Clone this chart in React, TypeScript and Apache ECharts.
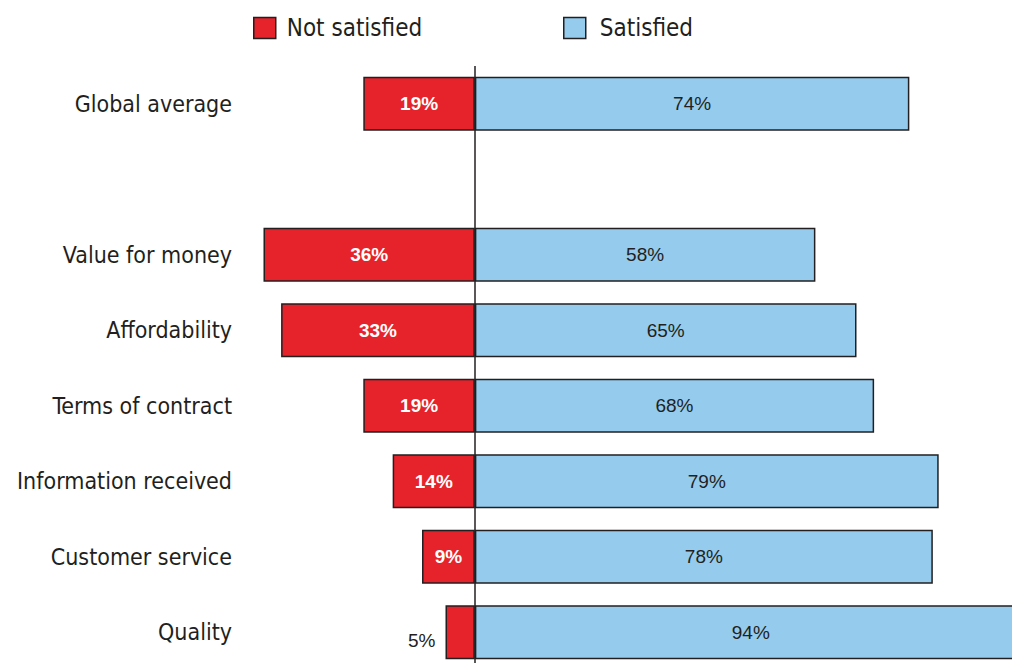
import React, { useEffect, useRef } from "react";
import * as echarts from "echarts";

const categories = [
  "Global average",
  "",
  "Value for money",
  "Affordability",
  "Terms of contract",
  "Information received",
  "Customer service",
  "Quality",
];
const notSatisfied: (number | null)[] = [19, null, 36, 33, 19, 14, 9, 5];
const satisfied: (number | null)[] = [74, null, 58, 65, 68, 79, 78, 94];
const seriesNames = ["Not satisfied", "Satisfied"];

const RED = "#E6222B";
const BLUE = "#95CCEE";
const INK = "#231F20";
const FONT = "'Liberation Sans Narrow', 'DejaVu Sans Condensed', sans-serif";
const LABEL_FONT = "'Liberation Sans', Arial, sans-serif";

export default function App() {
  const ref = useRef<HTMLDivElement>(null);
  useEffect(() => {
    if (!ref.current) return;
    const chart = echarts.init(ref.current, undefined, { renderer: "svg" });
    const notData = notSatisfied.map((v, i) => {
      if (v == null) return "-";
      if (i === categories.length - 1) {
        return {
          value: -v,
          label: { position: "left", color: INK, fontWeight: "normal", distance: 10, offset: [0, 8] },
        };
      }
      return -v;
    });
    chart.setOption({
      animation: false,
      backgroundColor: "#ffffff",
      textStyle: { fontFamily: FONT },
      legend: [
        {
          data: [seriesNames[0]],
          left: 248,
          top: 11,
          itemWidth: 22,
          itemHeight: 21,
          icon: "rect",
          itemStyle: { borderColor: INK, borderWidth: 1.5 },
          textStyle: { fontFamily: FONT, fontSize: 24, color: INK, padding: [0, 0, 0, 6] },
        },
        {
          data: [seriesNames[1]],
          left: 558,
          top: 11,
          itemWidth: 22,
          itemHeight: 21,
          icon: "rect",
          itemStyle: { borderColor: INK, borderWidth: 1.5 },
          textStyle: { fontFamily: FONT, fontSize: 24, color: INK, padding: [0, 0, 0, 9] },
        },
      ],
      grid: {
        left: 240,
        top: 66,
        width: 822,
        height: 604,
        containLabel: false,
        outerBoundsMode: "none",
      },
      xAxis: {
        type: "value",
        min: -40,
        max: 100,
        show: false,
      },
      yAxis: {
        type: "category",
        data: categories,
        inverse: true,
        axisLine: { show: false },
        axisTick: { show: false },
        splitLine: { show: false },
        axisLabel: {
          fontFamily: FONT,
          fontSize: 23,
          color: INK,
          margin: 8,
        },
      },
      series: [
        {
          name: seriesNames[0],
          type: "bar",
          stack: "total",
          barWidth: 54,
          data: notData,
          itemStyle: { color: RED, borderColor: INK, borderWidth: 1.5 },
          label: {
            show: true,
            position: "inside",
            color: "#ffffff",
            fontFamily: LABEL_FONT,
            fontSize: 19,
            fontWeight: "bold",
            formatter: (p: any) => `${Math.abs(p.value)}%`,
          },
          markLine: {
            silent: true,
            symbol: "none",
            label: { show: false },
            lineStyle: { color: INK, width: 1.5, type: "solid" },
            data: [{ xAxis: 0 }],
          },
        },
        {
          name: seriesNames[1],
          type: "bar",
          stack: "total",
          barWidth: 54,
          data: satisfied.map((v) => (v == null ? "-" : v)),
          itemStyle: { color: BLUE, borderColor: INK, borderWidth: 1.5 },
          label: {
            show: true,
            position: "inside",
            color: INK,
            fontFamily: LABEL_FONT,
            fontSize: 19,
            formatter: (p: any) => `${p.value}%`,
          },
        },
      ],
    });
    return () => chart.dispose();
  }, []);
  return (
    <div
      ref={ref}
      style={{ position: "fixed", left: 0, top: 0, width: 1012, height: 663 }}
    />
  );
}
